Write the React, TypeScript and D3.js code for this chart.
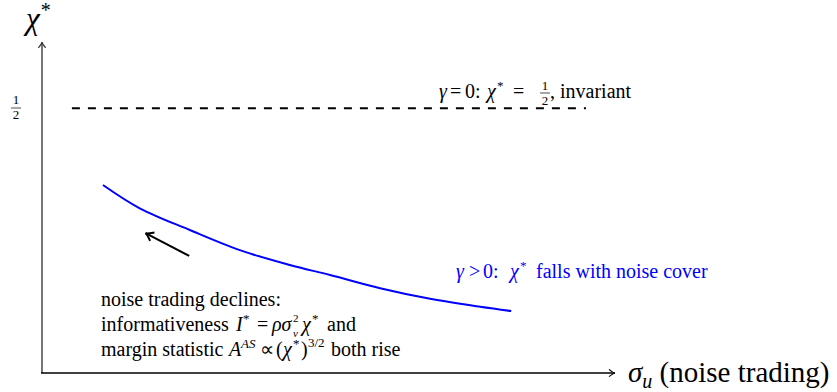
import React from 'react';
import * as d3 from 'd3';

// curve gamma > 0 : chi* falls with noise trading
const sigmaU = [1.06, 1.7, 2.57, 3.44, 4.31, 5.01, 5.88, 6.75, 7.62, 8.16];
const chiStar = [0.355, 0.311, 0.27, 0.232, 0.204, 0.185, 0.16, 0.14, 0.125, 0.117];

// gamma = 0 : flat at one half
const flatSigma = [0.52, 9.46];
const flatChi = 0.5;

// direction arrow (noise trading declines)
const arrowSigma = [2.56, 1.8];
const arrowChi = [0.221, 0.264];

const W = 837;
const H = 392;
const serif = "'Liberation Serif', 'Times New Roman', serif";

type Piece = { t: string; x: number; dy?: number; size?: number; it?: boolean };

// a line of mixed text / math, each piece placed at its own x
function MathLine({ y, pieces, fill = '#000' }: { y: number; pieces: Piece[]; fill?: string }) {
  return (
    <text y={y} fontSize={20} fill={fill}>
      {pieces.map((p, i) => (
        <tspan
          key={i}
          x={p.x}
          y={y + (p.dy || 0)}
          fontSize={p.size || 20}
          fontStyle={p.it ? 'italic' : 'normal'}
        >
          {p.t}
        </tspan>
      ))}
    </text>
  );
}

export default function App() {
  const x = d3.scaleLinear().domain([0, 10]).range([42, 617]);
  const y = d3.scaleLinear().domain([0, 0.625]).range([373, 42]);

  const line = d3
    .line<number>()
    .x((d, i) => x(sigmaU[i]))
    .y(d => y(d))
    .curve(d3.curveCatmullRom);

  const x0 = x(0);
  const y0 = y(0);
  const yHalf = y(flatChi);

  // little open arrow head like tikz "->"
  const head = (tx: number, ty: number, ang: number, s = 6) => {
    const a1 = ang + Math.PI - 0.55;
    const a2 = ang + Math.PI + 0.55;
    return `M${tx + s * Math.cos(a1)},${ty + s * Math.sin(a1)} Q${tx - 1.5 * Math.cos(ang)},${ty - 1.5 * Math.sin(ang)} ${tx},${ty} Q${tx - 1.5 * Math.cos(ang)},${ty - 1.5 * Math.sin(ang)} ${tx + s * Math.cos(a2)},${ty + s * Math.sin(a2)}`;
  };

  const ax1 = x(arrowSigma[0]);
  const ay1 = y(arrowChi[0]);
  const ax2 = x(arrowSigma[1]);
  const ay2 = y(arrowChi[1]);
  const arrowAng = Math.atan2(ay2 - ay1, ax2 - ax1);

  return (
    <svg width={W} height={H} style={{ position: 'absolute', left: 0, top: 0, fontFamily: serif }}>
      <rect width={W} height={H} fill="#fff" />

      {/* axes */}
      <line x1={x0} y1={y0} x2={x0} y2={y(0.625)} stroke="#777" strokeWidth={2} />
      <path d={head(x0, y(0.625), -Math.PI / 2, 7)} fill="none" stroke="#333" strokeWidth={1.2} />
      <line x1={x0 - 1} y1={y0} x2={x(10) - 2} y2={y0} stroke="#000" strokeWidth={1.5} />
      <path d={head(x(10) - 2, y0, 0, 7)} fill="none" stroke="#000" strokeWidth={1.2} />

      {/* axis labels */}
      <text x={26} y={29} fontSize={31} fontStyle="italic">
        χ<tspan fontSize={20} fontStyle="normal" dy={-12} dx={1}>*</tspan>
      </text>
      <text x={628} y={382} fontSize={29}>
        <tspan fontStyle="italic">σ</tspan>
        <tspan fontStyle="italic" fontSize={20} dy={6}>u</tspan>
        <tspan dy={-6}> (noise trading)</tspan>
      </text>

      {/* tick 1/2 */}
      <g fontSize={13} textAnchor="middle">
        <text x={16} y={104}>1</text>
        <line x1={11} x2={21} y1={108} y2={108} stroke="#000" strokeWidth={0.7} />
        <text x={16} y={119}>2</text>
      </g>

      {/* gamma = 0 */}
      <line
        x1={x(flatSigma[0])}
        x2={x(flatSigma[1])}
        y1={yHalf}
        y2={yHalf}
        stroke="#000"
        strokeWidth={2}
        strokeDasharray="8 8"
      />
      <MathLine
        y={98}
        pieces={[
          { t: 'γ', x: 439, it: true },
          { t: '=', x: 450 },
          { t: '0:', x: 465 },
          { t: 'χ', x: 487, it: true },
          { t: '*', x: 497, dy: -8, size: 13 },
          { t: '=', x: 513 },
        ]}
      />
      <g fontSize={13} textAnchor="middle">
        <text x={545} y={90}>1</text>
        <line x1={540} x2={550} y1={93} y2={93} stroke="#000" strokeWidth={0.7} />
        <text x={545} y={105}>2</text>
      </g>
      <text x={550} y={98} fontSize={20}>, invariant</text>

      {/* gamma > 0 */}
      <path d={line(chiStar) || ''} fill="none" stroke="#0000ff" strokeWidth={2} />
      <MathLine
        y={278}
        fill="#0000ff"
        pieces={[
          { t: 'γ', x: 456, it: true },
          { t: '>', x: 469 },
          { t: '0:', x: 483 },
          { t: 'χ', x: 510, it: true },
          { t: '*', x: 520, dy: -8, size: 13 },
          { t: 'falls with noise cover', x: 536 },
        ]}
      />

      {/* direction arrow */}
      <line x1={ax1} y1={ay1} x2={ax2} y2={ay2} stroke="#000" strokeWidth={2} />
      <path d={head(ax2, ay2, arrowAng, 9)} fill="none" stroke="#000" strokeWidth={2} />

      {/* note */}
      <text x={101} y={306} fontSize={20}>noise trading declines:</text>
      <MathLine
        y={331}
        pieces={[
          { t: 'informativeness', x: 101 },
          { t: 'I', x: 236, it: true },
          { t: '*', x: 243, dy: -8, size: 13 },
          { t: '=', x: 257 },
          { t: 'ρσ', x: 272, it: true },
          { t: '2', x: 293, dy: -9, size: 11 },
          { t: 'v', x: 293, dy: 6, size: 11, it: true },
          { t: 'χ', x: 302, it: true },
          { t: '*', x: 312, dy: -8, size: 13 },
          { t: 'and', x: 327 },
        ]}
      />
      <MathLine
        y={356}
        pieces={[
          { t: 'margin statistic', x: 101 },
          { t: 'A', x: 229, it: true },
          { t: 'AS', x: 241, dy: -8, size: 13, it: true },
          { t: '∝', x: 260 },
          { t: '(', x: 276 },
          { t: 'χ', x: 283, it: true },
          { t: '*', x: 293, dy: -8, size: 13 },
          { t: ')', x: 301 },
          { t: '3/2', x: 308, dy: -9, size: 13 },
          { t: 'both rise', x: 331 },
        ]}
      />
    </svg>
  );
}
